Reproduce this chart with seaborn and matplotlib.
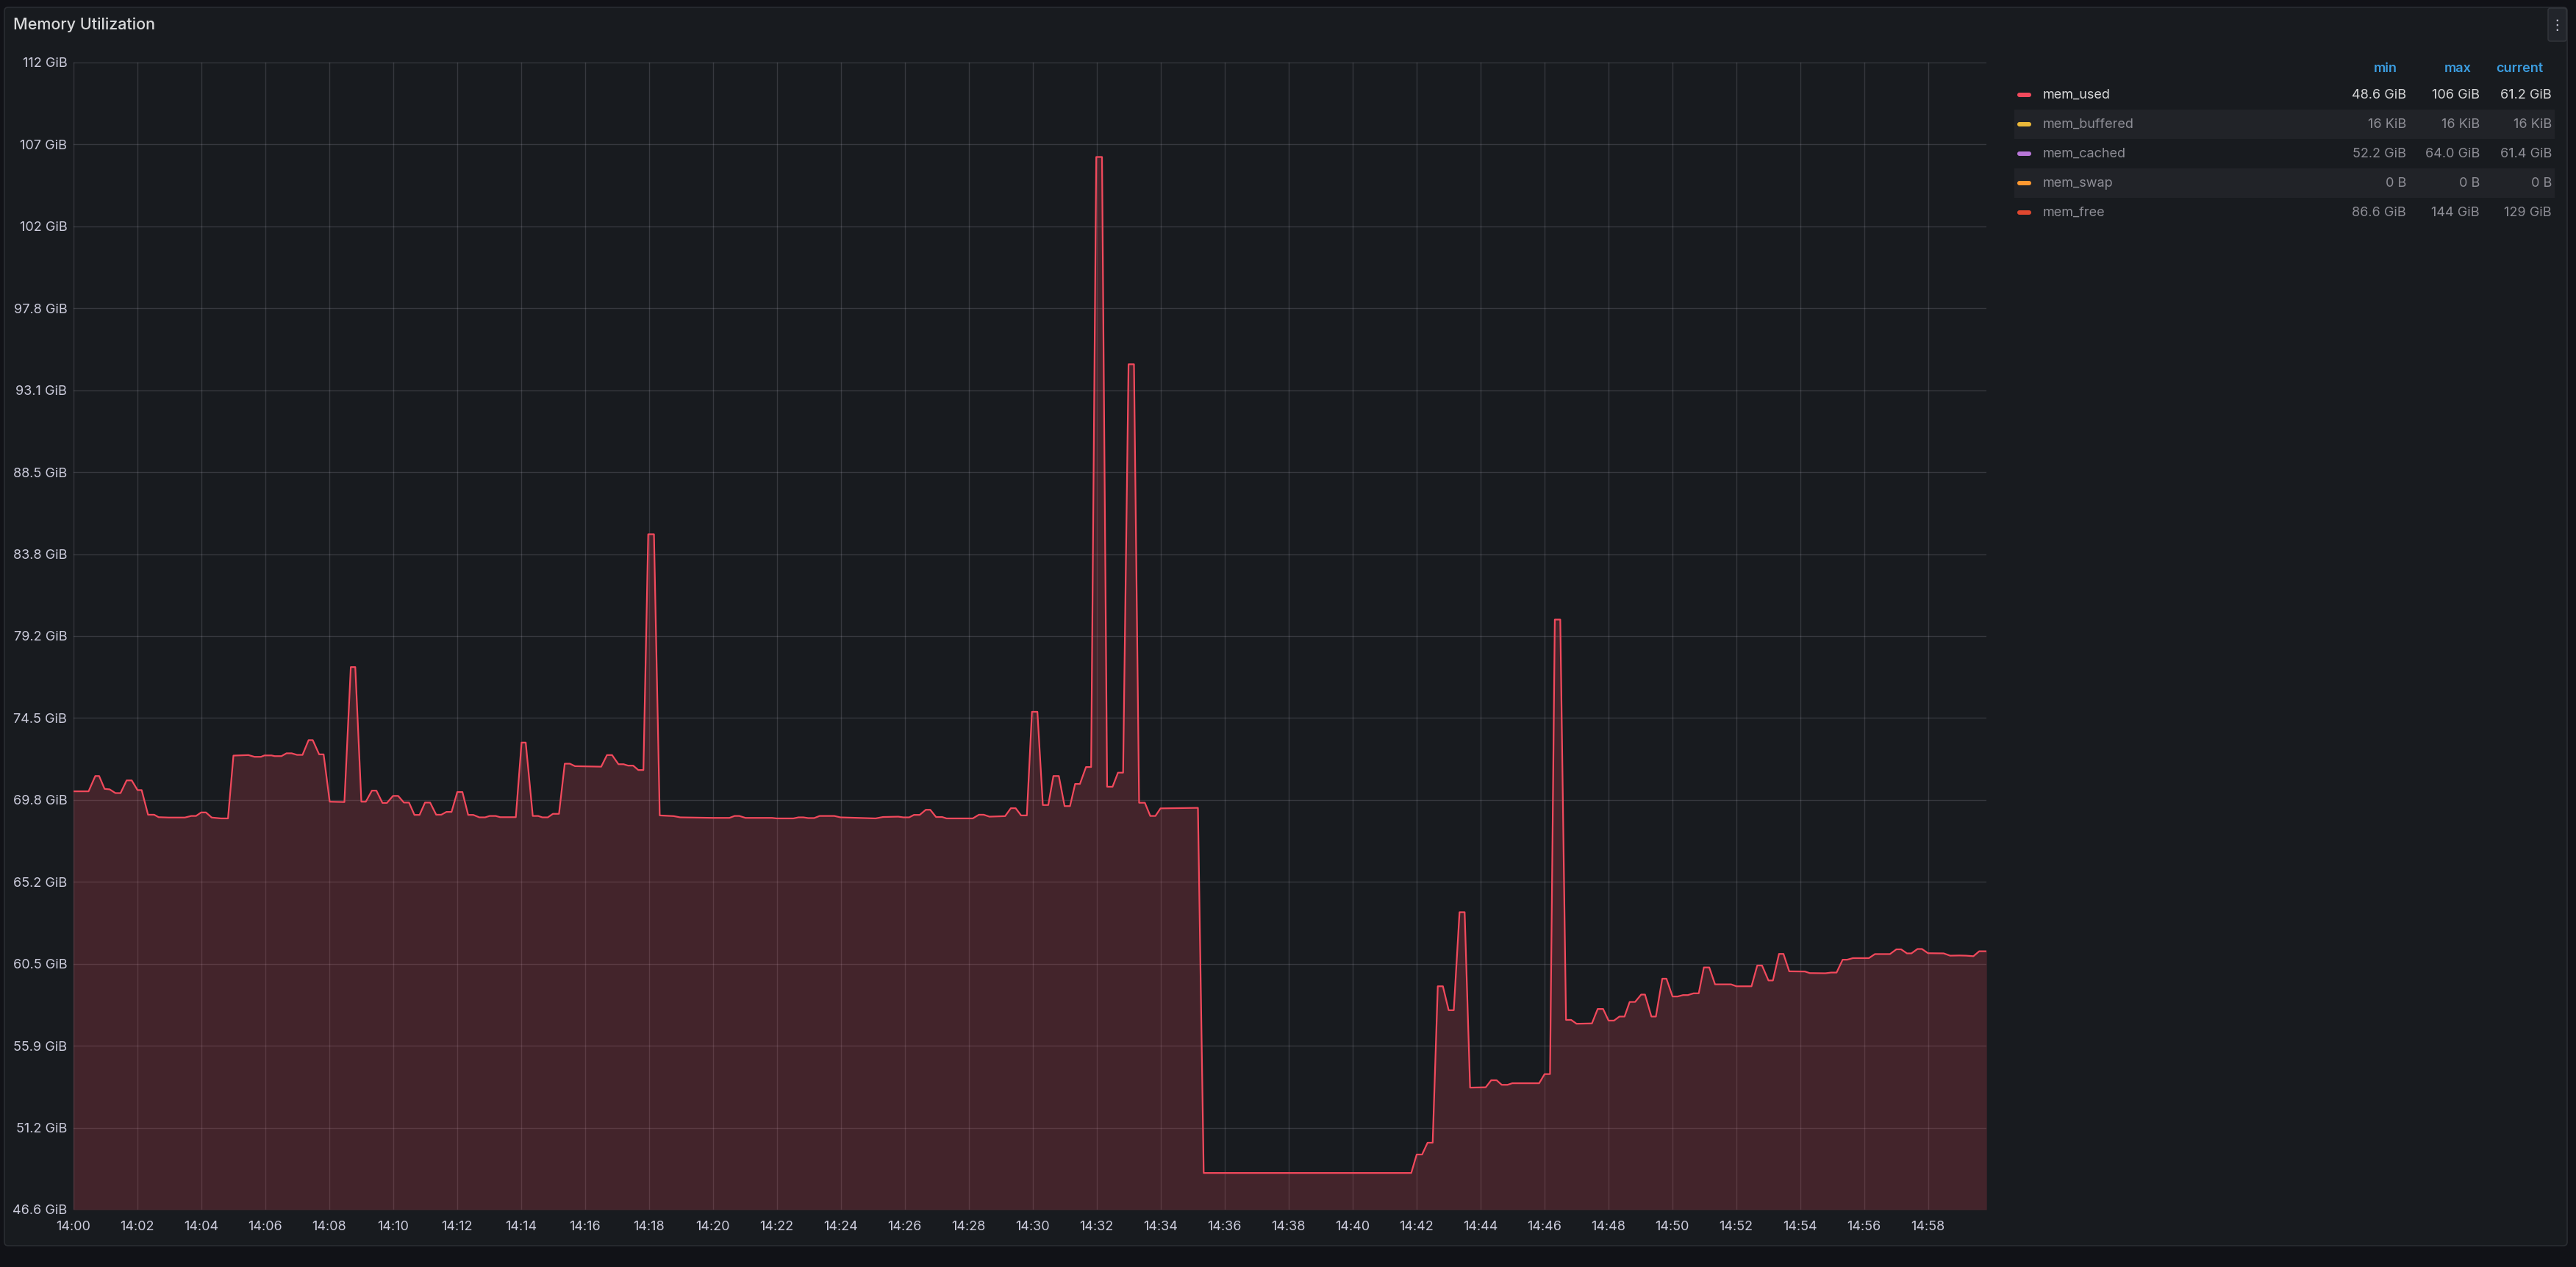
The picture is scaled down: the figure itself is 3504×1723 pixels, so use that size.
import matplotlib
matplotlib.use("Agg")
import matplotlib.pyplot as plt
from matplotlib.patches import Rectangle, FancyBboxPatch
from matplotlib.transforms import IdentityTransform
import seaborn as sns
import pandas as pd

W, H = 3504, 1723
GIB = 2 ** 30

# mem_used, vertices of the drawn line: minutes after 14:00 and GiB
minutes = [
    0.00, 0.48, 0.69, 0.81, 0.98, 1.14, 1.32, 1.48, 1.67, 1.83, 2.01, 2.14, 2.34, 2.53, 2.67, 2.99,
    3.49, 3.69, 3.84, 4.00, 4.15, 4.33, 4.62, 4.84, 5.01, 5.48, 5.67, 5.87, 5.98, 6.20, 6.30, 6.51,
    6.67, 6.83, 7.00, 7.17, 7.36, 7.49, 7.69, 7.83, 8.02, 8.48, 8.68, 8.82, 9.01, 9.15, 9.34, 9.48,
    9.67, 9.81, 10.00, 10.16, 10.34, 10.50, 10.67, 10.83, 11.00, 11.16, 11.35, 11.51, 11.67, 11.83,
    12.01, 12.17, 12.35, 12.51, 12.70, 12.88, 13.02, 13.21, 13.35, 13.84, 14.02, 14.15, 14.37, 14.54,
    14.67, 14.84, 15.00, 15.19, 15.37, 15.53, 15.69, 16.51, 16.69, 16.85, 17.05, 17.21, 17.35, 17.51,
    17.67, 17.83, 17.98, 18.16, 18.34, 18.78, 18.98, 20.00, 20.52, 20.68, 20.83, 21.02, 21.85, 22.00,
    22.52, 22.68, 22.83, 22.98, 23.17, 23.34, 23.80, 23.99, 24.53, 25.09, 25.32, 25.80, 25.96, 26.14,
    26.29, 26.47, 26.66, 26.80, 26.98, 27.17, 27.31, 28.13, 28.32, 28.47, 28.65, 29.14, 29.32, 29.47,
    29.64, 29.82, 29.98, 30.15, 30.32, 30.49, 30.65, 30.82, 31.00, 31.17, 31.33, 31.48, 31.67, 31.83,
    31.99, 32.17, 32.33, 32.50, 32.67, 32.83, 33.00, 33.17, 33.33, 33.51, 33.68, 33.84, 34.00, 35.17,
    35.35, 41.84, 42.01, 42.18, 42.35, 42.51, 42.67, 42.83, 43.01, 43.17, 43.35, 43.51, 43.68, 44.17,
    44.34, 44.51, 44.67, 44.85, 45.00, 45.84, 46.01, 46.18, 46.33, 46.50, 46.68, 46.84, 47.01, 47.49,
    47.67, 47.84, 48.01, 48.18, 48.35, 48.51, 48.67, 48.84, 49.03, 49.15, 49.35, 49.49, 49.69, 49.82,
    50.01, 50.17, 50.34, 50.49, 50.67, 50.83, 50.99, 51.16, 51.34, 51.84, 52.01, 52.48, 52.66, 52.81,
    53.01, 53.15, 53.34, 53.48, 53.66, 54.15, 54.30, 54.79, 54.97, 55.14, 55.33, 55.47, 55.65, 56.15,
    56.34, 56.81, 57.01, 57.16, 57.34, 57.48, 57.67, 57.81, 58.00, 58.49, 58.69, 58.98, 59.19, 59.42,
    59.60, 59.83,
]
mem_used = [
    70.34, 70.34, 71.21, 71.21, 70.48, 70.45, 70.24, 70.24, 70.96, 70.96, 70.41, 70.41, 69.01, 69.01, 68.87, 68.85,
    68.85, 68.94, 68.94, 69.14, 69.14, 68.85, 68.80, 68.80, 72.37, 72.40, 72.30, 72.30, 72.38, 72.38, 72.34, 72.34,
    72.50, 72.50, 72.41, 72.41, 73.25, 73.25, 72.44, 72.44, 69.75, 69.73, 77.40, 77.40, 69.75, 69.75, 70.38, 70.38,
    69.68, 69.68, 70.08, 70.08, 69.70, 69.70, 69.00, 69.00, 69.70, 69.70, 69.01, 69.01, 69.17, 69.17,
    70.30, 70.30, 69.00, 69.00, 68.86, 68.86, 68.94, 68.94, 68.87, 68.87, 73.11, 73.11, 68.94, 68.94,
    68.86, 68.86, 69.06, 69.06, 71.91, 71.91, 71.77, 71.74, 72.40, 72.40, 71.88, 71.88, 71.80, 71.80,
    71.55, 71.55, 84.95, 84.95, 68.97, 68.93, 68.86, 68.83, 68.83, 68.94, 68.94, 68.83, 68.83, 68.80,
    68.80, 68.86, 68.86, 68.82, 68.82, 68.94, 68.94, 68.86, 68.83, 68.80, 68.88, 68.90, 68.86, 68.86,
    69.00, 69.00, 69.29, 69.29, 68.88, 68.88, 68.80, 68.80, 69.01, 69.01, 68.90, 68.93, 69.38, 69.38,
    68.97, 68.97, 74.86, 74.86, 69.56, 69.56, 71.21, 71.21, 69.50, 69.50, 70.76, 70.76, 71.72, 71.72,
    106.39, 106.39, 70.60, 70.60, 71.40, 71.40, 94.61, 94.61, 69.69, 69.69, 68.94, 68.94, 69.37, 69.40,
    48.65, 48.65, 49.70, 49.70, 50.37, 50.37, 59.26, 59.26, 57.90, 57.90, 63.47, 63.47, 53.50, 53.52,
    53.92, 53.92, 53.66, 53.66, 53.75, 53.75, 54.27, 54.27, 80.10, 80.10, 57.35, 57.35, 57.13, 57.15,
    57.97, 57.97, 57.31, 57.31, 57.54, 57.54, 58.37, 58.37, 58.79, 58.79, 57.54, 57.54, 59.69, 59.69,
    58.68, 58.68, 58.76, 58.76, 58.86, 58.86, 60.33, 60.33, 59.37, 59.37, 59.26, 59.26, 60.44, 60.44,
    59.59, 59.59, 61.10, 61.10, 60.11, 60.10, 60.01, 60.00, 60.04, 60.04, 60.77, 60.77, 60.86, 60.86,
    61.09, 61.09, 61.36, 61.36, 61.13, 61.13, 61.38, 61.38, 61.14, 61.13, 61.00, 61.01, 61.00, 60.97,
    61.25, 61.25,
]

y_ticks_gb = [50, 55, 60, 65, 70, 75, 80, 85, 90, 95, 100, 105, 110, 115, 120]
y_tick_labels = ["46.6 GiB", "51.2 GiB", "55.9 GiB", "60.5 GiB", "65.2 GiB", "69.8 GiB", "74.5 GiB",
                 "79.2 GiB", "83.8 GiB", "88.5 GiB", "93.1 GiB", "97.8 GiB", "102 GiB", "107 GiB", "112 GiB"]
x_ticks = list(range(0, 60, 2))
x_tick_labels = [f"14:{m:02d}" for m in x_ticks]

series = ["mem_used", "mem_buffered", "mem_cached", "mem_swap", "mem_free"]
series_colors = ["#F2495C", "#EAB839", "#B877D9", "#FF9830", "#E0472F"]
stat_min = ["48.6 GiB", "16 KiB", "52.2 GiB", "0 B", "86.6 GiB"]
stat_max = ["106 GiB", "16 KiB", "64.0 GiB", "0 B", "144 GiB"]
stat_current = ["61.2 GiB", "16 KiB", "61.4 GiB", "0 B", "129 GiB"]

BG = "#111217"
PANEL = "#181b1f"
TEXT = "#ccccdc"
DIM = "#8e8e96"

sns.set_style("dark", {"axes.facecolor": PANEL, "figure.facecolor": BG})
plt.rcParams["font.family"] = ["Inter", "DejaVu Sans"]

fig = plt.figure(figsize=(W / 100, H / 100), dpi=100)
fig.patch.set_facecolor(BG)
px = IdentityTransform()

# panel
fig.add_artist(FancyBboxPatch((6, H - 1694), 3486, 1684, boxstyle="round,pad=0,rounding_size=5",
                              transform=px, facecolor=PANEL, edgecolor="#2a2d32", linewidth=1.2,
                              zorder=-10))
fig.text(18, H - 34, "Memory Utilization", transform=px, color="#d8d9da",
         fontsize=15.5, fontweight="medium", va="center", ha="left")
fig.add_artist(FancyBboxPatch((3466, H - 56), 25, 45, boxstyle="round,pad=0,rounding_size=3",
                              transform=px, facecolor="#22252b", edgecolor="#34373d", linewidth=1))
fig.text(3478.5, H - 34, "\u22ee", transform=px, color=TEXT, fontsize=14,
         va="center", ha="center", family=["DejaVu Sans"])

# plot area: 14:00 sits at x=99.6 px, 43.5 px per minute, right edge 2702 px
x0, x1, ytop, ybot = 99.6, 2702, 85, 1645
ax = fig.add_axes([x0 / W, 1 - ybot / H, (x1 - x0) / W, (ybot - ytop) / H])
ax.set_zorder(5)
ax.set_facecolor(PANEL)

df = pd.DataFrame({"minute": minutes, "used": mem_used})
ymin, ymax = 50e9 / GIB, 120e9 / GIB
ax.fill_between(df["minute"], df["used"], ymin, color=series_colors[0], alpha=0.2, linewidth=0, zorder=2)
sns.lineplot(data=df, x="minute", y="used", ax=ax, color=series_colors[0], linewidth=1.6,
             estimator=None, sort=False, zorder=3)

ax.set_xlim(0, (x1 - x0) / 43.5)
ax.set_ylim(ymin, ymax)
ax.set_xticks(x_ticks)
ax.set_xticklabels(x_tick_labels)
ax.set_yticks([g * 1e9 / GIB for g in y_ticks_gb])
ax.set_yticklabels(y_tick_labels)
ax.set_xlabel("")
ax.set_ylabel("")
ax.tick_params(axis="both", length=0, colors=TEXT, labelsize=13)
ax.tick_params(axis="x", pad=11)
ax.tick_params(axis="y", pad=6)
ax.grid(True, color=TEXT, alpha=0.17, linewidth=1.0)
ax.set_axisbelow(True)
for s in ax.spines.values():
    s.set_visible(False)

# legend table
hdr_y = 93
fig.text(3261, H - hdr_y, "min", transform=px, color="#3b9de0", fontsize=13, fontweight="semibold",
         ha="right", va="center")
fig.text(3362, H - hdr_y, "max", transform=px, color="#3b9de0", fontsize=13, fontweight="semibold",
         ha="right", va="center")
fig.text(3459, H - hdr_y, "current", transform=px, color="#3b9de0", fontsize=13, fontweight="semibold",
         ha="right", va="center")
for i, name in enumerate(series):
    cy = 129 + 40 * i
    if i % 2 == 1:
        fig.add_artist(Rectangle((2740, H - cy - 20), 735, 40, transform=px,
                                 facecolor="#212328", edgecolor="none"))
    fig.add_artist(FancyBboxPatch((2744, H - cy - 3), 19, 6, boxstyle="round,pad=0,rounding_size=3",
                                  transform=px, facecolor=series_colors[i], edgecolor="none"))
    col = "#d8d9da" if i == 0 else DIM
    fig.text(2779, H - cy, name, transform=px, color=col, fontsize=13, ha="left", va="center")
    fig.text(3273, H - cy, stat_min[i], transform=px, color=col, fontsize=13, ha="right", va="center")
    fig.text(3373, H - cy, stat_max[i], transform=px, color=col, fontsize=13, ha="right", va="center")
    fig.text(3471, H - cy, stat_current[i], transform=px, color=col, fontsize=13, ha="right", va="center")

fig.savefig("out.png", dpi=100, facecolor=BG)
